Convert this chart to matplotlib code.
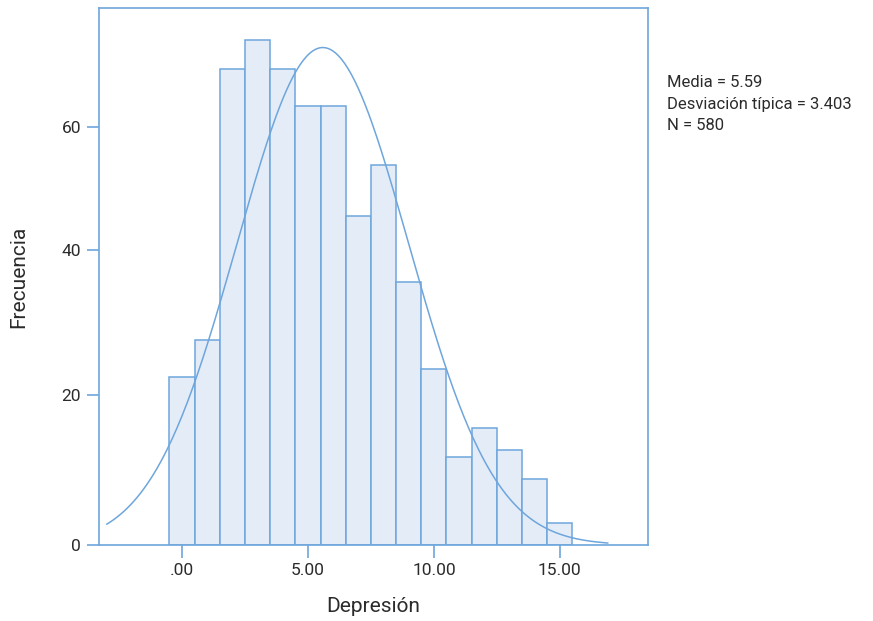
import numpy as np
import matplotlib
matplotlib.use("Agg")
import matplotlib.pyplot as plt

# histogram counts, one bin per integer score 0..15
scores = np.arange(0, 16)
counts = [23, 28, 65, 69, 65, 60, 60, 45, 52, 36, 24, 12, 16, 13, 9, 3]

media = 5.59
desv = 3.403
n_total = 580

xtick_vals = [0, 5, 10, 15]
xtick_labels = [".00", "5.00", "10.00", "15.00"]
ytick_labels = ["0", "20", "40", "60"]
ytick_pos = [0, 20.5, 40.3, 57.2]   # where the picture puts them

blue = "#6ea6dc"
fill = "#e4ecf8"
txt = "#2b2b2b"

plt.rcParams["font.family"] = ["Roboto", "DejaVu Sans"]

fig = plt.figure(figsize=(8.73, 6.21), dpi=100)
ax = fig.add_axes([99 / 873, 76 / 621, 549 / 873, 537 / 621])

ax.bar(scores, counts, width=1.0, color=fill, edgecolor=blue, linewidth=1.1)

# normal curve scaled to counts (bin width 1)
xs = np.linspace(-2.98, 16.9, 300)
ys = n_total / (desv * np.sqrt(2 * np.pi)) * np.exp(-0.5 * ((xs - media) / desv) ** 2)
ax.plot(xs, ys, color=blue, linewidth=1.1)

ax.set_xlim(-3.295, 18.5)
ax.set_ylim(0, 73.4)

ax.set_xticks(xtick_vals)
ax.set_xticklabels(xtick_labels)
ax.set_yticks(ytick_pos)
ax.set_yticklabels(ytick_labels)

for s in ax.spines.values():
    s.set_color(blue)
    s.set_linewidth(1.2)
ax.tick_params(axis="both", colors=blue, width=1.2, length=9, labelcolor=txt,
               labelsize=12.5, pad=4)

ax.set_xlabel("Depresión", fontsize=15, color=txt, labelpad=14)
ax.set_ylabel("Frecuencia", fontsize=15, color=txt, labelpad=24)

fig.text(667 / 873, 1 - 75 / 621, "Media = 5.59\nDesviación típica = 3.403\nN = 580",
         fontsize=12, color=txt, va="top", ha="left", linespacing=1.55)

fig.savefig("out.png", dpi=100)
